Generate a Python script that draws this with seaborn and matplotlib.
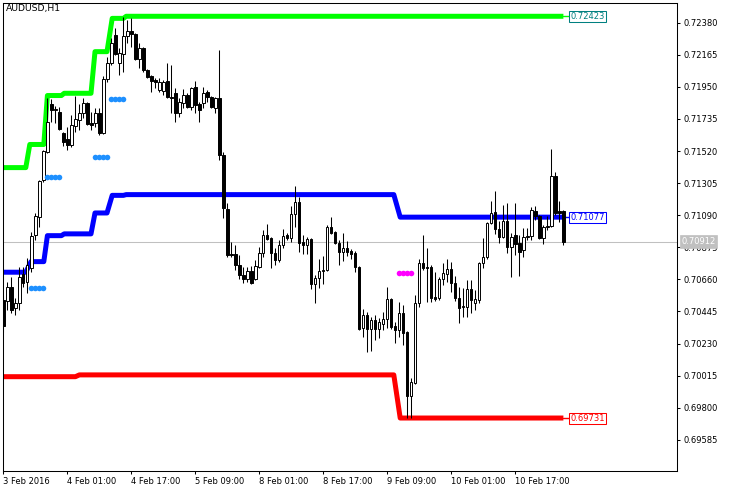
import matplotlib
matplotlib.use("Agg")
import matplotlib.pyplot as plt
import matplotlib.transforms as mtransforms
import numpy as np
import pandas as pd
import seaborn as sns

# ---------------- data (AUDUSD H1, one value per bar) ----------------
opens = [0.70522, 0.70515, 0.70609, 0.70468, 0.70502, 0.70696, 0.70643, 0.70736, 0.70958, 0.71078,
         0.71326, 0.71514, 0.71835, 0.71795, 0.71782, 0.71641, 0.71601, 0.71561, 0.71688, 0.71728,
         0.71775, 0.71842, 0.71708, 0.71708, 0.71775, 0.71641, 0.72003, 0.72110, 0.72298, 0.72110,
         0.72170, 0.72291, 0.72324, 0.72304, 0.72137, 0.72210, 0.72063, 0.72023, 0.71996, 0.71929,
         0.71922, 0.71989, 0.71882, 0.71909, 0.71775, 0.71842, 0.71896, 0.71815, 0.71949, 0.71835,
         0.71842, 0.71916, 0.71882, 0.71808, 0.71875, 0.71494, 0.71132, 0.70830, 0.70830, 0.70757,
         0.70690, 0.70663, 0.70716, 0.70663, 0.70743, 0.70837, 0.70958, 0.70937, 0.70837, 0.70790,
         0.70891, 0.70958, 0.70937, 0.71098, 0.71179, 0.70911, 0.70891, 0.70931, 0.70629, 0.70669,
         0.70716, 0.70723, 0.71011, 0.70978, 0.70904, 0.70844, 0.70870, 0.70850, 0.70837, 0.70743,
         0.70334, 0.70422, 0.70328, 0.70388, 0.70328, 0.70361, 0.70395, 0.70529, 0.70348, 0.70321,
         0.70435, 0.70308, 0.69879, 0.69966, 0.70502, 0.70770, 0.70743, 0.70743, 0.70542, 0.70535,
         0.70663, 0.70696, 0.70730, 0.70636, 0.70535, 0.70475, 0.70475, 0.70596, 0.70502, 0.70522,
         0.70770, 0.70810, 0.71038, 0.71112, 0.70998, 0.70944, 0.71051, 0.70877, 0.70958, 0.70904,
         0.70857, 0.70944, 0.70951, 0.71118, 0.71085, 0.70937, 0.71011, 0.71018, 0.71353, 0.71118,
         0.71118]
highs = [0.70549, 0.70643, 0.70676, 0.70535, 0.70743, 0.70743, 0.70803, 0.70978, 0.71105, 0.71326,
         0.71527, 0.71875, 0.71869, 0.71822, 0.71815, 0.71648, 0.71681, 0.71762, 0.71889, 0.71835,
         0.71875, 0.71849, 0.71782, 0.71808, 0.71808, 0.72023, 0.72150, 0.72277, 0.72344, 0.72210,
         0.72418, 0.72398, 0.72411, 0.72311, 0.72244, 0.72217, 0.72070, 0.72030, 0.72009, 0.72009,
         0.71996, 0.72110, 0.72097, 0.71942, 0.71875, 0.71936, 0.71909, 0.71949, 0.71989, 0.71849,
         0.71949, 0.71929, 0.71889, 0.71882, 0.72197, 0.71514, 0.71172, 0.70911, 0.70891, 0.70824,
         0.70743, 0.70743, 0.70750, 0.70790, 0.70877, 0.70991, 0.71031, 0.70944, 0.70870, 0.70924,
         0.70998, 0.70971, 0.71152, 0.71286, 0.71212, 0.70958, 0.70944, 0.70937, 0.70690, 0.70797,
         0.70817, 0.71025, 0.71078, 0.70984, 0.70924, 0.70971, 0.70917, 0.70864, 0.70850, 0.70750,
         0.70462, 0.70442, 0.70408, 0.70422, 0.70401, 0.70442, 0.70609, 0.70535, 0.70375, 0.70509,
         0.70489, 0.70314, 0.70000, 0.70556, 0.70797, 0.70958, 0.70870, 0.70757, 0.70710, 0.70676,
         0.70770, 0.70797, 0.70777, 0.70683, 0.70609, 0.70602, 0.70656, 0.70656, 0.70589, 0.70777,
         0.70937, 0.71045, 0.71185, 0.71252, 0.71051, 0.71159, 0.71172, 0.70971, 0.71172, 0.70958,
         0.71004, 0.71004, 0.71145, 0.71152, 0.71092, 0.71025, 0.71085, 0.71534, 0.71380, 0.71185,
         0.71125]
lows = [0.70308, 0.70455, 0.70435, 0.70422, 0.70455, 0.70609, 0.70569, 0.70710, 0.70924, 0.71011,
        0.71313, 0.71507, 0.71715, 0.71708, 0.71661, 0.71554, 0.71527, 0.71547, 0.71648, 0.71661,
        0.71741, 0.71695, 0.71661, 0.71681, 0.71628, 0.71634, 0.71983, 0.72097, 0.72164, 0.72030,
        0.72050, 0.72244, 0.72217, 0.72130, 0.72076, 0.72050, 0.72009, 0.71916, 0.71942, 0.71916,
        0.71896, 0.71875, 0.71775, 0.71715, 0.71748, 0.71808, 0.71808, 0.71795, 0.71775, 0.71715,
        0.71808, 0.71849, 0.71808, 0.71775, 0.71460, 0.71071, 0.70810, 0.70810, 0.70723, 0.70663,
        0.70636, 0.70643, 0.70629, 0.70656, 0.70736, 0.70810, 0.70924, 0.70736, 0.70757, 0.70777,
        0.70870, 0.70924, 0.70911, 0.71011, 0.70844, 0.70830, 0.70830, 0.70596, 0.70502, 0.70602,
        0.70629, 0.70716, 0.70964, 0.70897, 0.70757, 0.70783, 0.70817, 0.70797, 0.70710, 0.70321,
        0.70274, 0.70174, 0.70180, 0.70254, 0.70267, 0.70321, 0.70334, 0.70328, 0.70234, 0.70274,
        0.70220, 0.69731, 0.69731, 0.69959, 0.70475, 0.70723, 0.70509, 0.70509, 0.70515, 0.70522,
        0.70623, 0.70643, 0.70576, 0.70515, 0.70368, 0.70408, 0.70408, 0.70435, 0.70455, 0.70502,
        0.70736, 0.70797, 0.71031, 0.70964, 0.70904, 0.70937, 0.70837, 0.70676, 0.70824, 0.70683,
        0.70810, 0.70924, 0.70924, 0.71058, 0.70931, 0.70897, 0.70991, 0.71011, 0.71092, 0.71045,
        0.70891]
closes = [0.70348, 0.70609, 0.70455, 0.70502, 0.70676, 0.70636, 0.70757, 0.70951, 0.71085, 0.71319,
          0.71520, 0.71715, 0.71795, 0.71802, 0.71668, 0.71581, 0.71561, 0.71695, 0.71735, 0.71775,
          0.71842, 0.71701, 0.71695, 0.71775, 0.71641, 0.72003, 0.72110, 0.72244, 0.72170, 0.72177,
          0.72291, 0.72324, 0.72304, 0.72137, 0.72210, 0.72063, 0.72016, 0.71989, 0.71983, 0.71983,
          0.71983, 0.71882, 0.71875, 0.71775, 0.71849, 0.71896, 0.71815, 0.71942, 0.71829, 0.71795,
          0.71909, 0.71882, 0.71815, 0.71875, 0.71494, 0.71138, 0.70824, 0.70824, 0.70757, 0.70690,
          0.70663, 0.70716, 0.70636, 0.70750, 0.70837, 0.70958, 0.70931, 0.70837, 0.70790, 0.70891,
          0.70951, 0.70937, 0.71098, 0.71179, 0.70904, 0.70891, 0.70931, 0.70629, 0.70669, 0.70716,
          0.70723, 0.71011, 0.70971, 0.70904, 0.70844, 0.70870, 0.70844, 0.70830, 0.70743, 0.70328,
          0.70422, 0.70328, 0.70388, 0.70328, 0.70375, 0.70395, 0.70529, 0.70341, 0.70321, 0.70435,
          0.70301, 0.69879, 0.69973, 0.70502, 0.70770, 0.70736, 0.70736, 0.70535, 0.70529, 0.70663,
          0.70703, 0.70730, 0.70636, 0.70535, 0.70468, 0.70482, 0.70596, 0.70522, 0.70529, 0.70770,
          0.70810, 0.71038, 0.71105, 0.70998, 0.70944, 0.71051, 0.70877, 0.70944, 0.70897, 0.70844,
          0.70944, 0.70951, 0.71125, 0.71085, 0.70937, 0.71011, 0.71018, 0.71353, 0.71105, 0.71105,
          0.70912]

# channel lines (bar index, level)
upper_bar = [0, 5.6, 6.6, 10.1, 11.0, 14.5, 15.2, 21.9, 22.9, 25.9, 27.2, 30.0, 30.7, 140]
upper_val = [0.71409, 0.71409, 0.71564, 0.71564, 0.71892, 0.71892, 0.71907, 0.71907,
             0.72186, 0.72186, 0.72409, 0.72409, 0.72423, 0.72423]
middle_bar = [0, 5.6, 6.9, 10.1, 11.0, 14.5, 15.2, 21.9, 22.9, 25.9, 27.2, 30.0, 30.7, 97.6, 99.2, 140]
middle_val = [0.70708, 0.70708, 0.70779, 0.70779, 0.70953, 0.70953, 0.70965, 0.70965,
              0.71105, 0.71105, 0.71223, 0.71223, 0.71228, 0.71228, 0.71077, 0.71077]
lower_bar = [0, 18.0, 19.0, 97.6, 99.2, 140]
lower_val = [0.70008, 0.70008, 0.70020, 0.70020, 0.69731, 0.69731]

# signal dots
blue_dot_bar = [7, 8, 9, 10, 11, 12, 13, 14, 23, 24, 25, 26, 27, 28, 29, 30]
blue_dot_val = [0.70604, 0.70604, 0.70604, 0.70604, 0.71348, 0.71348, 0.71348, 0.71348,
                0.71482, 0.71482, 0.71482, 0.71482, 0.71871, 0.71871, 0.71871, 0.71871]
magenta_dot_bar = [99, 100, 101, 102]
magenta_dot_val = [0.70705, 0.70705, 0.70705, 0.70705]

last_price = 0.70912
line_labels = ["0.72423", "0.71077", "0.69731"]
last_label = "0.70912"
title = "AUDUSD,H1"

ytick_vals = [0.72380, 0.72165, 0.71950, 0.71735, 0.71520, 0.71305, 0.71090,
              0.70875, 0.70660, 0.70445, 0.70230, 0.70015, 0.69800, 0.69585]
ytick_labels = ["0.72380", "0.72165", "0.71950", "0.71735", "0.71520", "0.71305", "0.71090",
                "0.70875", "0.70660", "0.70445", "0.70230", "0.70015", "0.69800", "0.69585"]
xtick_bars = [0, 16, 32, 48, 64, 80, 96, 112, 128]
xtick_labels = ["3 Feb 2016", "4 Feb 01:00", "4 Feb 17:00", "5 Feb 09:00", "8 Feb 01:00",
                "8 Feb 17:00", "9 Feb 09:00", "10 Feb 01:00", "10 Feb 17:00"]

# ---------------- drawing ----------------
sns.set_style("white")
plt.rcParams['font.family'] = ['DejaVu Sans']

df = pd.DataFrame({"o": opens, "h": highs, "l": lows, "c": closes})
df["bar"] = np.arange(len(df))

fig = plt.figure(figsize=(7.29, 4.92), dpi=100)
fig.patch.set_facecolor("white")
ax = fig.add_axes([3 / 729, 21 / 492, 674 / 729, 468 / 492])
ax.set_facecolor("white")

ax.axhline(last_price, color="#C0C0C0", lw=0.75, zorder=1)

# channel lines
for bx, vals, col in [(upper_bar, upper_val, "#00FF00"),
                      (middle_bar, middle_val, "#0000FF"),
                      (lower_bar, lower_val, "#FF0000")]:
    sns.lineplot(x=bx, y=vals, color=col, linewidth=3.6, sort=False, estimator=None,
                 ax=ax, solid_capstyle="butt", zorder=2)

# candles
ax.vlines(df["bar"], df["l"], df["h"], color="black", lw=0.75, zorder=3)
body_bottom = np.minimum(df["o"], df["c"])
body_h = np.abs(df["c"] - df["o"])
colors = np.where(df["c"] > df["o"], "white", "black")
ax.bar(df["bar"], body_h, bottom=body_bottom, width=0.55, color=colors,
       edgecolor="black", linewidth=0.7, zorder=4)

# dots
sns.scatterplot(x=blue_dot_bar, y=blue_dot_val, color="#1E90FF", s=16, linewidth=0,
                ax=ax, zorder=5, legend=False)
sns.scatterplot(x=magenta_dot_bar, y=magenta_dot_val, color="#FF00FF", s=16, linewidth=0,
                ax=ax, zorder=5, legend=False)

# right-end labels for channel lines
label_cols = ["#008080", "#0000FF", "#FF0000"]
line_ends = [upper_val[-1], middle_val[-1], lower_val[-1]]
line_cols = ["#00FF00", "#0000FF", "#FF0000"]
for v, txt, tc, lc in zip(line_ends, line_labels, label_cols, line_cols):
    ax.plot([140, 141.4], [v, v], color=lc, lw=1.0, zorder=2)
    ax.text(141.7, v, txt, color=tc, fontsize=6, ha="left", va="center", zorder=6,
            bbox=dict(boxstyle="square,pad=0.12", fc="white", ec=tc, lw=0.75))

ax.set_xlim(-0.1, 168.4)
ax.set_ylim(0.69376, 0.72512)

ax.yaxis.tick_right()
ax.set_yticks(ytick_vals)
ax.set_yticklabels(ytick_labels)
ax.set_xticks(xtick_bars)
ax.set_xticklabels(xtick_labels)
for lab in ax.get_xticklabels():
    lab.set_ha("left")
ax.tick_params(axis="y", direction="out", length=2.5, width=0.75, pad=2,
               labelsize=6, colors="black", left=False, right=True)
ax.tick_params(axis="x", direction="out", length=2.5, width=0.75, pad=2,
               labelsize=6, colors="black", bottom=True)
for sp in ax.spines.values():
    sp.set_color("black")
    sp.set_linewidth(0.75)
ax.set_xlabel("")
ax.set_ylabel("")
ax.grid(False)

# last price label on the axis
trans = mtransforms.blended_transform_factory(ax.transAxes, ax.transData)
ax.text(1.0065, last_price, last_label, transform=trans, color="white", fontsize=6,
        ha="left", va="center", zorder=10, clip_on=False,
        bbox=dict(boxstyle="square,pad=0.22", fc="#C0C0C0", ec="#C0C0C0", lw=0.5))

ax.text(0.0045, 0.997, title, transform=ax.transAxes, fontsize=6.7, color="black",
        ha="left", va="top", zorder=10)

fig.savefig("out.png", dpi=100, facecolor="white")
